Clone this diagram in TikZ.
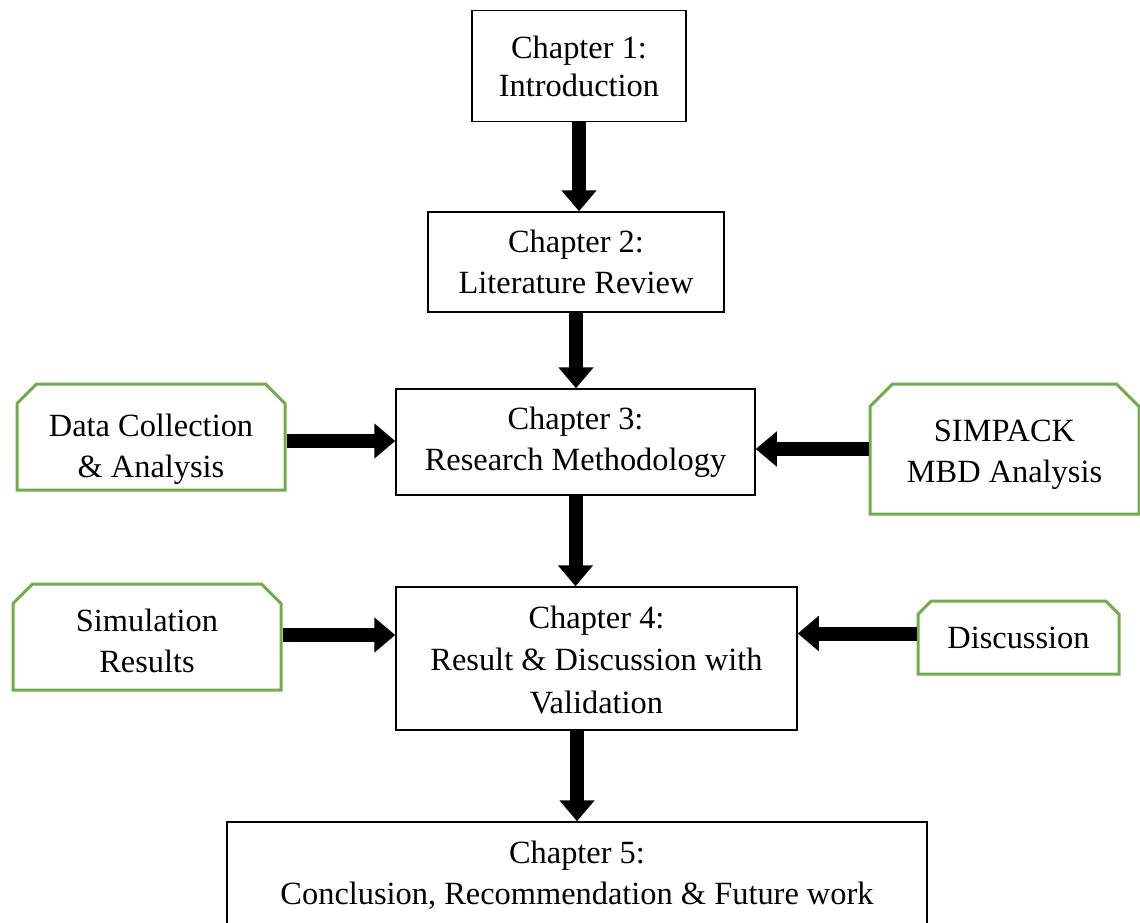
\documentclass[tikz,border=0pt]{standalone}
\usepackage{fontspec}
\setmainfont{Liberation Serif}
\usetikzlibrary{arrows.meta,shapes.misc}
\definecolor{boxgreen}{RGB}{112,173,71}
\newcommand{\lowtext}[2]{\raisebox{-#1}[\height][\depth]{\begin{tabular}{@{}c@{}}#2\end{tabular}}}
\tikzset{
  chapbox/.style={draw, line width=0.75pt, align=center, inner sep=0pt},
  sidebox/.style={chamfered rectangle, chamfered rectangle corners={north west,north east},
    chamfered rectangle sep=4.9pt, draw=boxgreen, line width=1.5pt, align=center, inner sep=0pt},
  bigarrow/.style={line width=7pt, -{Triangle[length=10.5pt,width=17pt]}}
}
\begin{document}
\begin{tikzpicture}[x=0.5pt,y=-0.5pt,font=\fontsize{16.2}{20.5}\selectfont]
\useasboundingbox (0,0) rectangle (1140,922);
% chapters
\node[chapbox, minimum width=107pt, minimum height=55.5pt] (ch1) at (579,66) {Chapter 1:\\[-1.5pt]Introduction};
\node[chapbox, minimum width=148pt, minimum height=50pt] (ch2) at (576,262) {Chapter 2:\\Literature Review};
\node[chapbox, minimum width=179.5pt, minimum height=53pt] (ch3) at (575.5,442) {Chapter 3:\\Research Methodology};
\node[chapbox, minimum width=200.5pt, minimum height=71.5pt] (ch4) at (596.5,658.5) {\lowtext{2pt}{Chapter 4:\\[0.7pt]Result \& Discussion with\\[0.7pt]Validation}};
\node[chapbox, minimum width=350pt, minimum height=51pt] (ch5) at (577,873) {\lowtext{1.5pt}{Chapter 5:\\Conclusion, Recommendation \& Future work}};
% side inputs
\node[sidebox, minimum width=134pt, minimum height=53pt] (data) at (151,437) {\lowtext{6pt}{Data Collection\\\& Analysis}};
\node[sidebox, chamfered rectangle sep=5.6pt, minimum width=134.5pt, minimum height=65pt] (simpack) at (1004.5,449) {\lowtext{2.2pt}{SIMPACK\\MBD Analysis}};
\node[sidebox, minimum width=134pt, minimum height=53pt] (simres) at (147,637) {\lowtext{3.2pt}{Simulation\\Results}};
\node[sidebox, chamfered rectangle sep=3.3pt, minimum width=100.5pt, minimum height=36.5pt] (disc) at (1018.5,637.5) {Discussion};
% arrows
\draw[bigarrow] (ch1.south) -- (ch1.south |- ch2.north);
\draw[bigarrow] (ch2.south) -- (ch2.south |- ch3.north);
\draw[bigarrow] (ch3.south) -- (ch3.south |- ch4.north);
\draw[bigarrow] (ch5.north |- ch4.south) -- (ch5.north);
\draw[bigarrow] ([yshift=-2pt]data.east) -- ([yshift=-2pt]data.east -| ch3.west);
\draw[bigarrow] (simpack.west) -- (simpack.west -| ch3.east);
\draw[bigarrow] ([yshift=1pt]simres.east) -- ([yshift=1pt]simres.east -| ch4.west);
\draw[bigarrow] ([yshift=2pt]disc.west) -- ([yshift=2pt]disc.west -| ch4.east);
\end{tikzpicture}
\end{document}
